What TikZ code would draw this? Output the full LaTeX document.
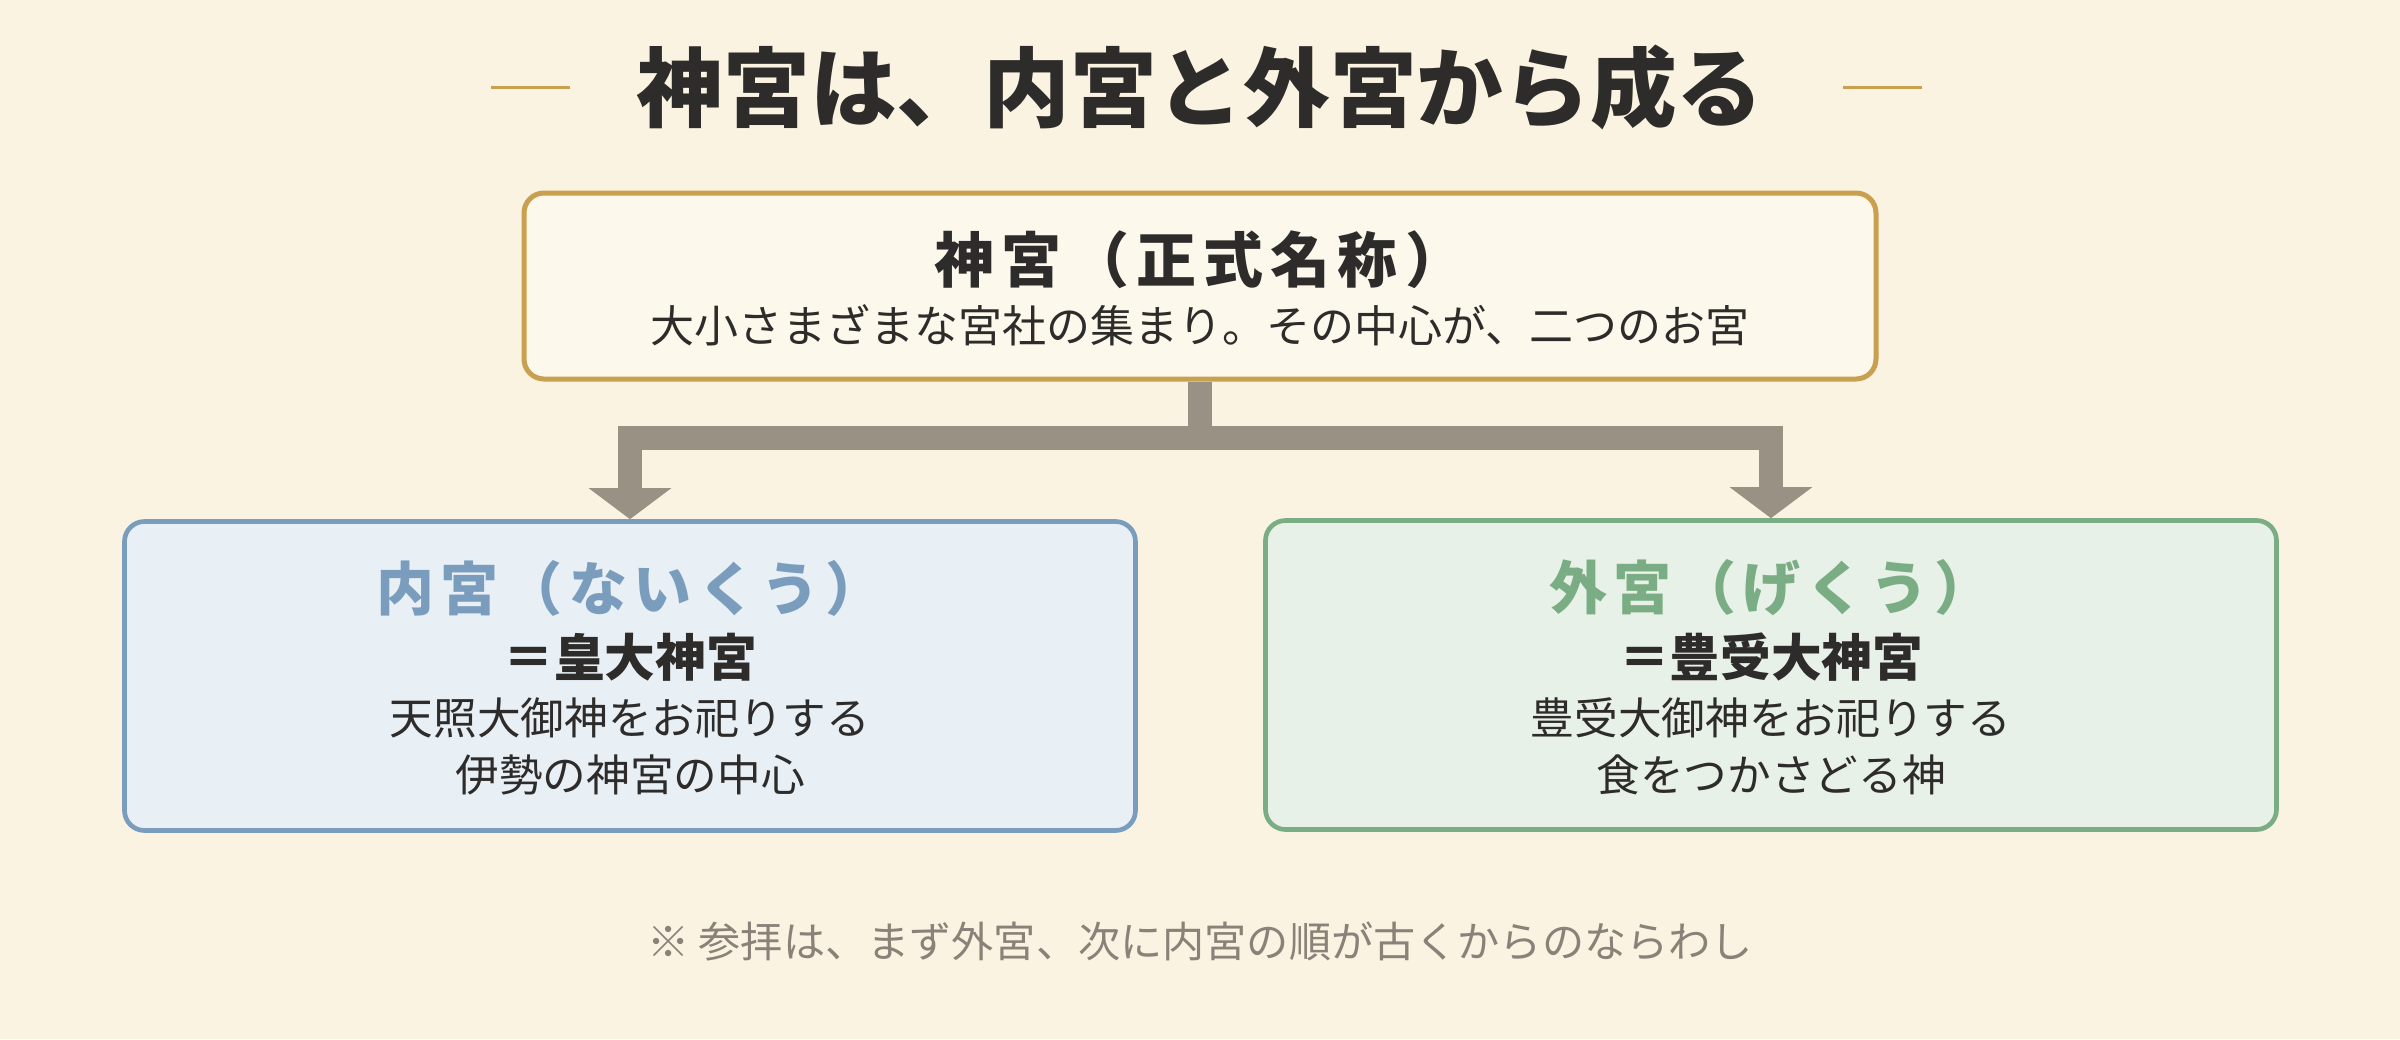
\documentclass[tikz,border=0pt]{standalone}
\usepackage{fontspec}
\setmainfont{Noto Sans CJK JP}
\usetikzlibrary{positioning,calc,arrows.meta}

\definecolor{cream}{HTML}{FAF3E2}
\definecolor{paper}{HTML}{FDF8EC}
\definecolor{gold}{HTML}{C8A04F}
\definecolor{ink}{HTML}{2E2C2A}
\definecolor{stone}{HTML}{9A9185}
\definecolor{naiblue}{HTML}{7B9DBD}
\definecolor{naifill}{HTML}{E8EFF5}
\definecolor{gegreen}{HTML}{7AAD84}
\definecolor{gefill}{HTML}{E8F1E8}
\definecolor{notegray}{HTML}{8A8178}

\begin{document}
\begin{tikzpicture}[x=0.3pt,y=-0.3pt]
                    \tikzstyle{txt}=[inner sep=0,outer sep=0,text=ink]
                    \tikzstyle{headline}=[txt,font=\fontsize{26}{30}\selectfont\bfseries]
                    \tikzstyle{boxhead}=[txt,font=\fontsize{18}{22}\selectfont\bfseries\addfontfeature{LetterSpace=12}]
                    \tikzstyle{boxsub}=[txt,font=\fontsize{13.2}{16}\selectfont]
                    \tikzstyle{shrinename}=[txt,font=\fontsize{17.4}{21}\selectfont\bfseries\addfontfeature{LetterSpace=11}]
                    \tikzstyle{kami}=[txt,font=\fontsize{15.2}{18}\selectfont\bfseries]
                    \tikzstyle{desc}=[txt,font=\fontsize{13.1}{16}\selectfont]
                    \tikzstyle{note}=[txt,text=notegray,font=\fontsize{12.65}{16}\selectfont]
                    \tikzstyle{shrine}=[rectangle,draw,rounded corners=6pt,line width=1.4pt,minimum width=303.3pt,minimum height=92.7pt]
                    \tikzstyle{rule}=[draw=gold,line width=0.9pt]
                    \tikzstyle{trunk}=[draw=stone,line width=7.2pt,-{Triangle[width=24.3pt,length=9.3pt]}]
                    {
                        \fill[cream] (0,0) rectangle (2400,1039);

                        % title with the two short rules
                        \node[headline] (title) at (1200,87) {神宮は、内宮と外宮から成る};
                        \draw[rule] ($(title.west)+(-146,0)$) -- ++(79,0);
                        \draw[rule] ($(title.east)+(80,0)$) -- ++(79,0);

                        % top box
                        \node[shrine,draw=gold,fill=paper,line width=1.5pt,minimum width=405.6pt,minimum height=55.8pt] (jingu) at (1200,286) {};
                        \node[boxhead] (jinguname) at ($(jingu.center)+(0,-26)$) {神宮（正式名称）};
                        \node[boxsub] (jingusub) [below of=jinguname,node distance=19.5pt] {大小さまざまな宮社の集まり。その中心が、二つのお宮};

                        % the two shrines
                        \node[shrine,draw=naiblue,fill=naifill] (naiku) at (630,676) {};
                        \node[shrine,draw=gegreen,fill=gefill] (geku) at (1771,675) {};

                        \node[shrinename,text=naiblue] (naikuname) at ($(naiku.center)+(0,-88)$) {内宮（ないくう）};
                        \node[kami] (naikukami) at ($(naiku.center)+(0,-19)$) {＝皇大神宮};
                        \node[desc] (naikudesc1) at ($(naiku.center)+(0,42)$) {天照大御神をお祀りする};
                        \node[desc] (naikudesc2) at ($(naiku.center)+(0,99)$) {伊勢の神宮の中心};

                        \node[shrinename,text=gegreen] (gekuname) at ($(geku.center)+(0,-87)$) {外宮（げくう）};
                        \node[kami] (gekukami) at ($(geku.center)+(0,-18)$) {＝豊受大神宮};
                        \node[desc] (gekudesc1) at ($(geku.center)+(0,43)$) {豊受大御神をお祀りする};
                        \node[desc] (gekudesc2) at ($(geku.center)+(0,100)$) {食をつかさどる神};

                        \node[note] (footnote) at (1200,941) {※ 参拝は、まず外宮、次に内宮の順が古くからのならわし};

                        % connectors
                        \coordinate (fork) at ($(jingu.south)+(0,56)$);
                        \draw[trunk] (jingu.south) -- (fork) -| (naiku.north);
                        \draw[trunk] (jingu.south) -- (fork) -| (geku.north);
                    }
\end{tikzpicture}
\end{document}
